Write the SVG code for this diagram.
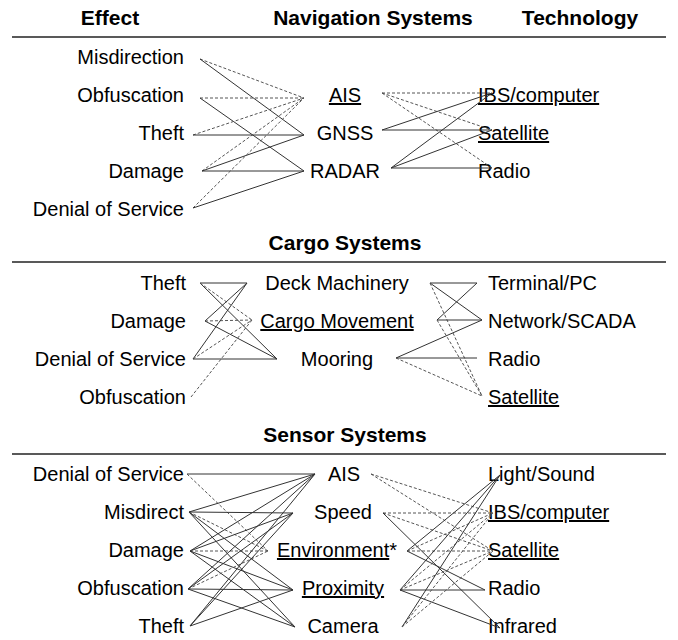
<svg xmlns="http://www.w3.org/2000/svg" width="678" height="640" viewBox="0 0 678 640">
<style>
text{font-family:"Liberation Sans",Arial,sans-serif;font-size:20px;fill:#000}
.h{font-weight:bold;font-size:21px}
.r{text-anchor:end}
.m{text-anchor:middle}
.u{text-decoration:underline}
.rule{stroke:#222;stroke-width:1.3}
#connectors line{stroke:#333;stroke-width:1}
#connectors line.d{stroke:#555;stroke-dasharray:3 2}
</style>
<rect width="678" height="640" fill="#fff"/>
<g id="headers">
<text class="h m" x="110" y="25">Effect</text>
<text class="h m" x="373" y="25">Navigation Systems</text>
<text class="h m" x="580" y="25">Technology</text>
<line class="rule" x1="12" y1="37" x2="666" y2="37"/>
<text class="h m" x="345" y="250">Cargo Systems</text>
<line class="rule" x1="12" y1="262" x2="666" y2="262"/>
<text class="h m" x="345" y="442">Sensor Systems</text>
<line class="rule" x1="12" y1="454" x2="666" y2="454"/>
</g>
<!-- Navigation -->
<g id="nav-effects">
<text id="n-misdirection" class="r" x="184" y="64">Misdirection</text>
<text id="n-obfuscation" class="r" x="184" y="102">Obfuscation</text>
<text id="n-theft" class="r" x="184" y="140">Theft</text>
<text id="n-damage" class="r" x="184" y="178">Damage</text>
<text id="n-dos" class="r" x="184" y="216">Denial of Service</text>
</g>
<g id="nav-systems">
<text id="n-ais" class="m u" x="345" y="102">AIS</text>
<text id="n-gnss" class="m" x="345" y="140">GNSS</text>
<text id="n-radar" class="m" x="345" y="178">RADAR</text>
</g>
<g id="nav-tech">
<text id="n-ibs" class="u" x="478" y="102">IBS/computer</text>
<text id="n-sat" class="u" x="478" y="140">Satellite</text>
<text id="n-radio" x="478" y="178">Radio</text>
</g>
<!-- Cargo -->
<g id="cargo-effects">
<text id="c-theft" class="r" x="186" y="290">Theft</text>
<text id="c-damage" class="r" x="186" y="328">Damage</text>
<text id="c-dos" class="r" x="186" y="366">Denial of Service</text>
<text id="c-obfuscation" class="r" x="186" y="404">Obfuscation</text>
</g>
<g id="cargo-systems">
<text id="c-deck" class="m" x="337" y="290">Deck Machinery</text>
<text id="c-cargo" class="m u" x="337" y="328">Cargo Movement</text>
<text id="c-mooring" class="m" x="337" y="366">Mooring</text>
</g>
<g id="cargo-tech">
<text id="c-terminal" x="488" y="290">Terminal/PC</text>
<text id="c-network" x="488" y="328">Network/SCADA</text>
<text id="c-radio" x="488" y="366">Radio</text>
<text id="c-sat" class="u" x="488" y="404">Satellite</text>
</g>
<!-- Sensor -->
<g id="sensor-effects">
<text id="s-dos" class="r" x="184" y="481">Denial of Service</text>
<text id="s-misdirect" class="r" x="184" y="519">Misdirect</text>
<text id="s-damage" class="r" x="184" y="557">Damage</text>
<text id="s-obfuscation" class="r" x="184" y="595">Obfuscation</text>
<text id="s-theft" class="r" x="184" y="633">Theft</text>
</g>
<g id="sensor-systems">
<text id="s-ais" class="m" x="344" y="481">AIS</text>
<text id="s-speed" class="m" x="343" y="519">Speed</text>
<text id="s-env" class="m" x="337" y="557"><tspan class="u">Environment</tspan>*</text>
<text id="s-prox" class="m u" x="343" y="595">Proximity</text>
<text id="s-camera" class="m" x="343" y="633">Camera</text>
</g>
<g id="sensor-tech">
<text id="s-light" x="488" y="481">Light/Sound</text>
<text id="s-ibs" class="u" x="488" y="519">IBS/computer</text>
<text id="s-sat" class="u" x="488" y="557">Satellite</text>
<text id="s-radio" x="488" y="595">Radio</text>
<text id="s-infrared" x="488" y="633">Infrared</text>
</g>
<g id="connectors">
<!-- nav left -->
<line class="d" x1="200" y1="59" x2="304" y2="98"/>
<line x1="200" y1="59" x2="304" y2="135"/>
<line class="d" x1="200" y1="98" x2="304" y2="98"/>
<line x1="200" y1="98" x2="304" y2="171"/>
<line class="d" x1="193" y1="135" x2="304" y2="98"/>
<line x1="193" y1="135" x2="304" y2="135"/>
<line class="d" x1="202" y1="171" x2="304" y2="98"/>
<line x1="202" y1="171" x2="304" y2="135"/>
<line x1="202" y1="171" x2="304" y2="171"/>
<line class="d" x1="193" y1="208" x2="304" y2="98"/>
<line x1="193" y1="208" x2="304" y2="171"/>
<!-- nav right -->
<line class="d" x1="382" y1="93" x2="492" y2="93"/>
<line class="d" x1="382" y1="93" x2="492" y2="130"/>
<line class="d" x1="382" y1="93" x2="492" y2="168"/>
<line x1="382" y1="130" x2="492" y2="93"/>
<line x1="382" y1="130" x2="492" y2="130"/>
<line x1="391" y1="168" x2="492" y2="93"/>
<line x1="391" y1="168" x2="492" y2="130"/>
<line x1="391" y1="168" x2="492" y2="168"/>
<!-- cargo left -->
<line x1="200" y1="283" x2="247" y2="283"/>
<line x1="200" y1="283" x2="277" y2="359"/>
<line class="d" x1="200" y1="283" x2="252" y2="320"/>
<line x1="205" y1="321" x2="247" y2="283"/>
<line class="d" x1="205" y1="321" x2="252" y2="320"/>
<line x1="205" y1="321" x2="277" y2="359"/>
<line x1="193" y1="359" x2="247" y2="283"/>
<line class="d" x1="193" y1="359" x2="252" y2="320"/>
<line x1="193" y1="359" x2="277" y2="359"/>
<line class="d" x1="191" y1="397" x2="252" y2="320"/>
<!-- cargo right -->
<line x1="430" y1="283" x2="477" y2="283"/>
<line x1="430" y1="283" x2="482" y2="320"/>
<line class="d" x1="430" y1="283" x2="482" y2="396"/>
<line x1="437" y1="320" x2="477" y2="283"/>
<line x1="437" y1="320" x2="482" y2="320"/>
<line class="d" x1="437" y1="320" x2="482" y2="396"/>
<line x1="396" y1="358" x2="482" y2="320"/>
<line x1="396" y1="358" x2="477" y2="358"/>
<line class="d" x1="396" y1="358" x2="482" y2="396"/>
<!-- sensor left -->
<line x1="187" y1="474" x2="315" y2="474"/>
<line class="d" x1="187" y1="474" x2="268" y2="551"/>
<line x1="189" y1="512" x2="315" y2="474"/>
<line x1="189" y1="512" x2="293" y2="513"/>
<line class="d" x1="189" y1="512" x2="268" y2="551"/>
<line x1="189" y1="512" x2="293" y2="590"/>
<line x1="189" y1="512" x2="295" y2="627"/>
<line x1="190" y1="551" x2="315" y2="474"/>
<line x1="190" y1="551" x2="293" y2="513"/>
<line class="d" x1="190" y1="551" x2="268" y2="551"/>
<line x1="190" y1="551" x2="293" y2="590"/>
<line x1="190" y1="551" x2="295" y2="627"/>
<line x1="188" y1="589" x2="315" y2="474"/>
<line x1="188" y1="589" x2="293" y2="513"/>
<line class="d" x1="188" y1="589" x2="268" y2="551"/>
<line x1="188" y1="589" x2="293" y2="590"/>
<line x1="188" y1="589" x2="295" y2="627"/>
<line x1="190" y1="626" x2="315" y2="474"/>
<line x1="190" y1="626" x2="293" y2="513"/>
<line x1="190" y1="626" x2="293" y2="590"/>
<!-- sensor right -->
<line class="d" x1="371" y1="474" x2="493" y2="513"/>
<line class="d" x1="371" y1="474" x2="493" y2="551"/>
<line class="d" x1="383" y1="513" x2="493" y2="513"/>
<line class="d" x1="383" y1="513" x2="493" y2="551"/>
<line x1="383" y1="513" x2="500" y2="628"/>
<line x1="407" y1="551" x2="500" y2="475"/>
<line class="d" x1="407" y1="551" x2="493" y2="513"/>
<line class="d" x1="407" y1="551" x2="493" y2="551"/>
<line x1="407" y1="551" x2="485" y2="590"/>
<line x1="400" y1="590" x2="500" y2="475"/>
<line class="d" x1="400" y1="590" x2="493" y2="513"/>
<line class="d" x1="400" y1="590" x2="493" y2="551"/>
<line x1="400" y1="590" x2="485" y2="590"/>
<line x1="400" y1="590" x2="500" y2="628"/>
<line x1="402" y1="627" x2="500" y2="475"/>
<line class="d" x1="402" y1="627" x2="493" y2="513"/>
<line class="d" x1="402" y1="627" x2="493" y2="551"/>
</g>
</svg>
